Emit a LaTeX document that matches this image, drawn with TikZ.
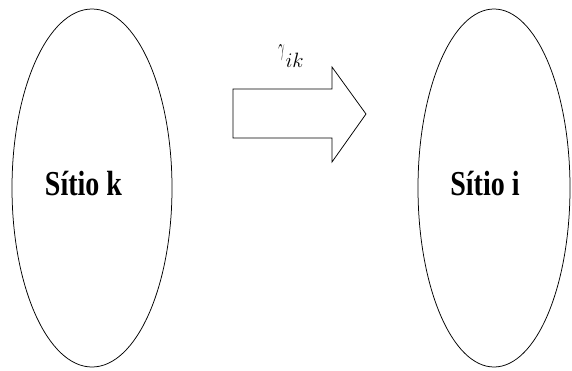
\documentclass[tikz,border=0pt]{standalone}
\usepackage{fontspec}
\setmainfont{Liberation Serif}
\usetikzlibrary{shapes.geometric}
\begin{document}
\begin{tikzpicture}[x=1pt,y=-1pt,
  site/.style={draw, line width=0.75pt, ellipse, inner sep=0pt},
  sitelbl/.style={anchor=base, inner sep=0pt, font=\fontsize{35}{35}\selectfont\bfseries},
  flow/.style={draw, line width=0.75pt, line join=miter}]
\useasboundingbox (0,0) rectangle (572,370);
\node[site, minimum width=160pt, minimum height=358pt] (k) at (92,188) {};
\node[site, minimum width=152pt, minimum height=358pt] (i) at (494,188) {};
\node[sitelbl] (tk) at (83.5,195) {\scalebox{0.8}[1]{Sítio k}};
\node[sitelbl] (ti) at (485,195) {\scalebox{0.8}[1]{Sítio i}};
\coordinate (a1) at (233,89);
\coordinate (a2) at (332,89);
\coordinate (a3) at (332,67);
\coordinate (a4) at (366,114);
\coordinate (a5) at (332,162);
\coordinate (a6) at (332,138);
\coordinate (a7) at (233,138);
\draw[flow] (a1) -- (a2) -- (a3) -- (a4) -- (a5) -- (a6) -- (a7) -- cycle;
\node[inner sep=0pt, anchor=base] (g) at (291,55)
  {{\fontsize{48}{48}\selectfont\scalebox{0.45}[1]{$\gamma$}}\kern1pt{\fontsize{22}{22}\selectfont\raisebox{-12pt}{$ik$}}};
\end{tikzpicture}
\end{document}
